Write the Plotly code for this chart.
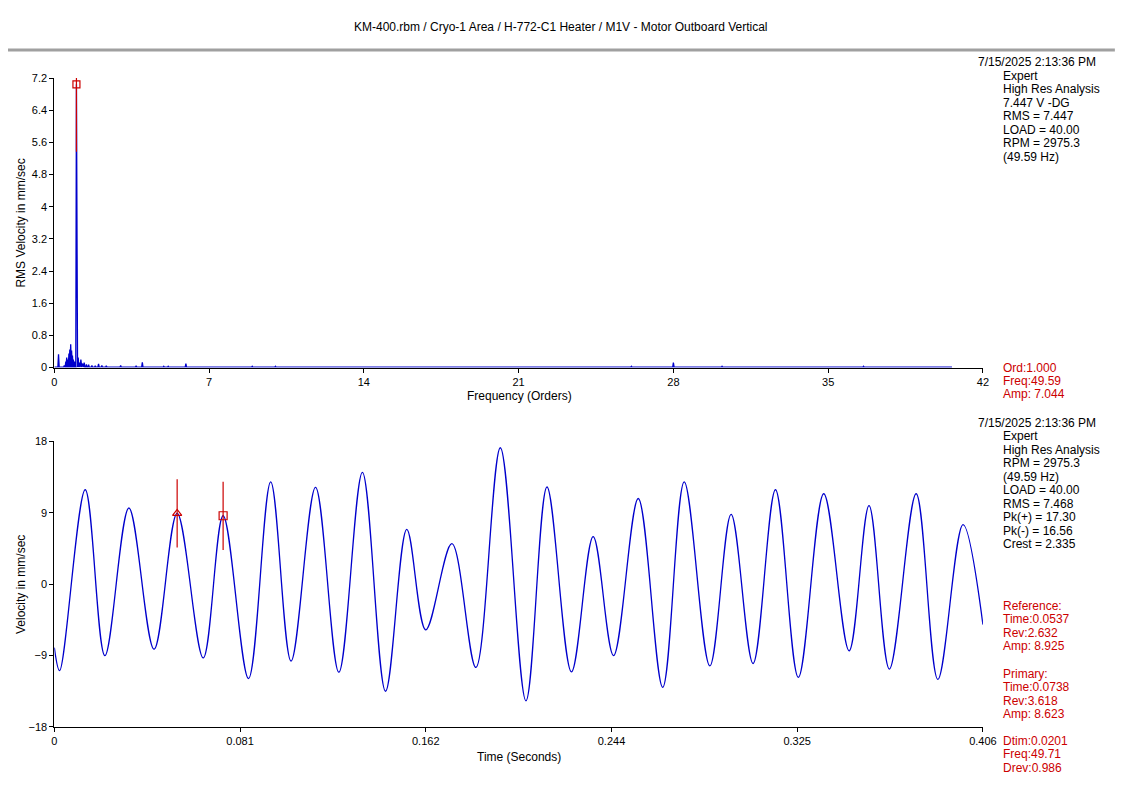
#!/usr/bin/env python3
# -*- coding: utf-8 -*-

import plotly.graph_objects as go

# page is 1129x803; body keeps its default 8px margin
W, H = 1113, 787
OFF = 8
FONT = "Liberation Sans"
BLUE = "#0000cc"
RED = "#cc0000"

TITLE = "KM-400.rbm / Cryo-1 Area / H-772-C1 Heater / M1V - Motor Outboard Vertical"
STAMP = "7/15/2025 2:13:36 PM"

# spectrum peaks (orders, rms velocity mm/sec)
spec_ord = [0.19, 0.45, 0.52, 0.56, 0.61, 0.66, 0.70, 0.74, 0.78, 0.82, 0.86, 0.91, 0.95,
            1.00, 1.08, 1.14, 1.20, 1.27, 1.35, 1.45, 1.55, 1.70, 1.85, 2.00, 2.15, 2.35,
            3.00, 3.70, 3.98, 4.95, 5.15, 5.95, 8.95, 10.0, 26.1, 28.0, 30.2, 36.6]
spec_amp = [0.33, 0.05, 0.15, 0.25, 0.20, 0.35, 0.45, 0.58, 0.42, 0.30, 0.20, 0.15, 0.12,
            7.044, 0.25, 0.12, 0.20, 0.10, 0.12, 0.08, 0.07, 0.05, 0.04, 0.09, 0.05, 0.04,
            0.05, 0.04, 0.13, 0.03, 0.03, 0.10, 0.03, 0.03, 0.03, 0.12, 0.03, 0.03]
spec_floor = 0.01
spec_end = 40.6

# waveform extremes (seconds, velocity mm/sec)
wave_t = [0.0, 0.0023, 0.0135, 0.0221, 0.0326, 0.0436, 0.0537, 0.0651, 0.0738, 0.0849,
          0.0946, 0.1035, 0.1142, 0.1244, 0.1347, 0.1448, 0.1541, 0.1624, 0.1738, 0.1843,
          0.1950, 0.2062, 0.2154, 0.2261, 0.2356, 0.2445, 0.2553, 0.2660, 0.2754, 0.2866,
          0.2959, 0.3055, 0.3153, 0.3253, 0.3364, 0.3475, 0.3562, 0.3651, 0.3768, 0.3863,
          0.3973, 0.406]
wave_v = [-8.0, -10.9, 11.9, -9.0, 9.6, -8.2, 8.925, -9.3, 8.623, -11.9,
          12.9, -9.7, 12.2, -11.1, 14.1, -13.5, 6.9, -5.75, 5.1, -10.5,
          17.2, -14.7, 12.25, -11.05, 6.0, -9.0, 10.8, -13.0, 12.9, -10.3,
          8.8, -10.0, 11.9, -11.75, 11.4, -8.4, 9.9, -10.7, 11.4, -12.0,
          7.5, -5.1]

spec_xticks = [0, 7, 14, 21, 28, 35, 42]
spec_yticks = [0, 0.8, 1.6, 2.4, 3.2, 4, 4.8, 5.6, 6.4, 7.2]
wave_xlabels = ["0", "0.081", "0.162", "0.244", "0.325", "0.406"]
wave_yticks = [-18, -9, 0, 9, 18]

# cursors
spec_cursor = (1.000, 7.044)
ref_cursor = (0.0537, 8.925)
pri_cursor = (0.0738, 8.623)

spec_info = ["Expert", "High Res Analysis", "7.447 V -DG", "RMS = 7.447",
             "LOAD = 40.00", "RPM = 2975.3", "(49.59 Hz)"]
spec_cur_txt = ["Ord:1.000", "Freq:49.59", "Amp: 7.044"]
wave_info = ["Expert", "High Res Analysis", "RPM = 2975.3", "(49.59 Hz)", "LOAD = 40.00",
             "RMS = 7.468", "Pk(+) = 17.30", "Pk(-) = 16.56", "Crest = 2.335"]
wave_cur_txt = [["Reference:", "Time:0.0537", "Rev:2.632", "Amp: 8.925"],
                ["Primary:", "Time:0.0738", "Rev:3.618", "Amp: 8.623"],
                ["Dtim:0.0201", "Freq:49.71", "Drev:0.986"]]


def px(x):
    return (x - OFF) / W


def py(y):
    return 1 - (y - OFF) / H


# build the spectrum line as narrow spikes on the floor
sx, sy = [0.0], [spec_floor]
for o, a in zip(spec_ord, spec_amp):
    sx += [o - 0.03, o, o + 0.03]
    sy += [spec_floor, a, spec_floor]
sx.append(spec_end)
sy.append(spec_floor)

fig = go.Figure()
fig.add_trace(go.Scatter(x=sx, y=sy, mode="lines", line=dict(color=BLUE, width=1.3),
                         xaxis="x", yaxis="y", hoverinfo="skip"))
fig.add_trace(go.Scatter(x=[spec_cursor[0]] * 2, y=[spec_cursor[1] - 1.68, spec_cursor[1] + 0.3],
                         mode="lines", line=dict(color=RED, width=1.2), xaxis="x", yaxis="y"))
fig.add_trace(go.Scatter(x=[spec_cursor[0]], y=[spec_cursor[1]], mode="markers",
                         marker=dict(symbol="square-open", size=7, color=RED, line=dict(width=1.2)),
                         xaxis="x", yaxis="y", cliponaxis=False))

fig.add_trace(go.Scatter(x=wave_t, y=wave_v, mode="lines",
                         line=dict(color=BLUE, width=1.3, shape="spline", smoothing=1.0),
                         xaxis="x2", yaxis="y2"))
for (t, a), sym in [(ref_cursor, "triangle-up-open"), (pri_cursor, "square-open")]:
    fig.add_trace(go.Scatter(x=[t, t], y=[a - 4.3, a + 4.3], mode="lines",
                             line=dict(color=RED, width=1.2), xaxis="x2", yaxis="y2"))
    fig.add_trace(go.Scatter(x=[t], y=[a], mode="markers",
                             marker=dict(symbol=sym, size=8, color=RED, line=dict(width=1.2)),
                             xaxis="x2", yaxis="y2"))

axis_common = dict(showline=True, linecolor="black", linewidth=1, ticks="outside",
                   ticklen=4, tickcolor="black", showgrid=False, zeroline=False,
                   tickfont=dict(family=FONT, size=11, color="black"), mirror=False)

fig.update_layout(
    width=W, height=H,
    margin=dict(l=0, r=0, t=0, b=0),
    paper_bgcolor="white", plot_bgcolor="white",
    showlegend=False,
    font=dict(family=FONT, size=12, color="black"),
    xaxis=dict(domain=[px(52), px(995)], range=[0, 42], tickvals=spec_xticks,
               anchor="y", **axis_common),
    yaxis=dict(domain=[py(367), py(73)], range=[0, 7.2], tickvals=spec_yticks,
               anchor="x", **axis_common),
    xaxis2=dict(domain=[px(52), px(995)], range=[0, 0.406],
                tickvals=[i * 0.406 / 5 for i in range(6)], ticktext=wave_xlabels,
                anchor="y2", **axis_common),
    yaxis2=dict(domain=[py(732), py(442)], range=[-18, 18], tickvals=wave_yticks,
                anchor="x2", **axis_common),
)

# grey separator bar under the title
fig.add_shape(type="rect", xref="paper", yref="paper", x0=px(0), x1=px(1129),
              y0=py(46), y1=py(43), fillcolor="#a0a0a0", line=dict(width=0))

ann = []


def text(x, y, s, color="black", size=12, anchor="left", angle=0):
    ann.append(dict(x=px(x), y=py(y), xref="paper", yref="paper", text=s, showarrow=False,
                    xanchor=anchor, yanchor="middle", textangle=angle,
                    font=dict(family=FONT, size=size, color=color)))


text(566, 21, TITLE, anchor="center")
text(524, 396, "Frequency (Orders)", anchor="center")
text(524, 762, "Time (Seconds)", anchor="center")
text(18, 220, "RMS Velocity in mm/sec", anchor="center", angle=-90)
text(18, 587, "Velocity in mm/sec", anchor="center", angle=-90)

step = 13.65
text(988, 57, STAMP)
for i, s in enumerate(spec_info):
    text(1013, 71 + i * step, s)
for i, s in enumerate(spec_cur_txt):
    text(1013, 367 + i * step, s, color=RED)

text(988, 423, STAMP)
for i, s in enumerate(wave_info):
    text(1013, 437 + i * step, s)
for block, y0 in zip(wave_cur_txt, [609, 678, 746]):
    for i, s in enumerate(block):
        text(1013, y0 + i * step, s, color=RED)

fig.update_layout(annotations=ann)

fig.write_html("out.html", config={"displayModeBar": False})
